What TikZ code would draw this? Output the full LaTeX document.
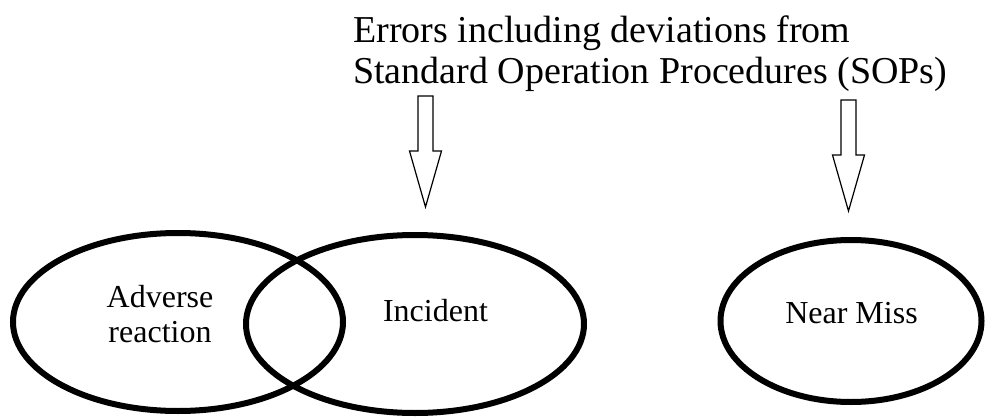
\documentclass[tikz,border=0pt]{standalone}
\usepackage{fontspec}
\setmainfont{Liberation Serif}
\usetikzlibrary{shapes.geometric}

\begin{document}
\begin{tikzpicture}[
    x=1pt, y=-1pt,
    set/.style={ellipse, draw, line width=6pt, inner sep=0pt},
    lbl/.style={font=\fontsize{32}{35}\selectfont, align=center, inner sep=0pt},
    hollowdown/.pic={\draw[line width=1.2pt, line join=miter] (-7.5,0) -- (7.5,0) -- (7.5,55) -- (16,55) -- (0,111) -- (-16,55) -- (-7.5,55) -- cycle;}
  ]
    \useasboundingbox (0,0) rectangle (985,417);

    \node[lbl, font=\fontsize{38}{41}\selectfont, align=left, anchor=north west] (errors) at (353,16)
      {Errors including deviations from\\Standard Operation Procedures (SOPs)};

    \pic (arrinc) at (425.5,96) {hollowdown};
    \pic (arrnear) at (848.5,100) {hollowdown};

    \node[set, minimum width=330pt, minimum height=178pt] (adverse) at (178,322) {};
    \node[set, minimum width=338pt, minimum height=178pt] (incident) at (415,324) {};
    \node[set, minimum width=261pt, minimum height=162pt] (nearmiss) at (851,321) {};

    \node[lbl, anchor=north] (advtxt) at (160,285) {Adverse\\reaction};
    \node[lbl, anchor=base] (inctxt) at (435.5,321) {Incident};
    \node[lbl, anchor=base] (neartxt) at (851.5,323) {Near Miss};
  \end{tikzpicture}
\end{document}
